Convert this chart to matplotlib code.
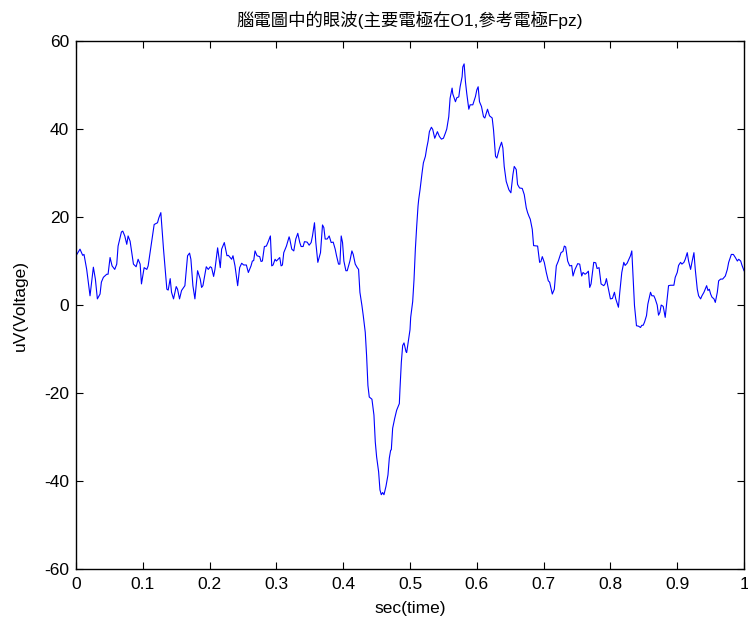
import numpy as np
import matplotlib
matplotlib.use('Agg')
import matplotlib.pyplot as plt

# EEG trace (time in s, voltage in uV)
t = [0.000, 0.006, 0.010, 0.012, 0.016, 0.021, 0.026, 0.029, 0.032, 0.036,
     0.038, 0.041, 0.046, 0.048, 0.051, 0.054, 0.058, 0.061, 0.063, 0.068,
     0.070, 0.073, 0.076, 0.078, 0.081, 0.086, 0.090, 0.093, 0.096, 0.098,
     0.102, 0.106, 0.108, 0.113, 0.117, 0.122, 0.124, 0.127, 0.131, 0.136,
     0.138, 0.141, 0.143, 0.146, 0.150, 0.152, 0.155, 0.158, 0.163, 0.167,
     0.170, 0.172, 0.175, 0.178, 0.182, 0.186, 0.188, 0.190, 0.195, 0.198,
     0.201, 0.203, 0.206, 0.208, 0.212, 0.216, 0.218, 0.222, 0.226, 0.228,
     0.233, 0.235, 0.238, 0.242, 0.245, 0.248, 0.251, 0.255, 0.258, 0.262,
     0.264, 0.266, 0.268, 0.271, 0.275, 0.277, 0.279, 0.282, 0.285, 0.288,
     0.291, 0.293, 0.295, 0.298, 0.300, 0.305, 0.307, 0.309, 0.311, 0.315,
     0.319, 0.320, 0.323, 0.326, 0.329, 0.332, 0.335, 0.337, 0.340, 0.342,
     0.346, 0.349, 0.352, 0.354, 0.357, 0.359, 0.362, 0.366, 0.369, 0.371,
     0.373, 0.376, 0.379, 0.382, 0.385, 0.388, 0.390, 0.393, 0.395, 0.397,
     0.399, 0.401, 0.404, 0.406, 0.410, 0.413, 0.415, 0.418, 0.421, 0.423,
     0.425, 0.428, 0.430, 0.433, 0.435, 0.437, 0.439, 0.443, 0.446, 0.447,
     0.448, 0.450, 0.453, 0.455, 0.457, 0.459, 0.461, 0.464, 0.467, 0.469,
     0.471, 0.472, 0.474, 0.477, 0.480, 0.484, 0.485, 0.487, 0.489, 0.491,
     0.494, 0.495, 0.498, 0.500, 0.501, 0.504, 0.506, 0.508, 0.510, 0.512,
     0.513, 0.515, 0.518, 0.520, 0.523, 0.525, 0.527, 0.529, 0.532, 0.534,
     0.537, 0.541, 0.544, 0.547, 0.550, 0.553, 0.555, 0.558, 0.560, 0.563,
     0.564, 0.568, 0.570, 0.573, 0.575, 0.578, 0.579, 0.581, 0.583, 0.585,
     0.588, 0.590, 0.594, 0.598, 0.600, 0.602, 0.604, 0.607, 0.610, 0.612,
     0.616, 0.619, 0.623, 0.625, 0.628, 0.630, 0.634, 0.637, 0.639, 0.641,
     0.644, 0.648, 0.651, 0.654, 0.656, 0.659, 0.661, 0.664, 0.668, 0.671,
     0.674, 0.676, 0.678, 0.680, 0.683, 0.685, 0.691, 0.694, 0.696, 0.698,
     0.701, 0.704, 0.707, 0.709, 0.713, 0.716, 0.719, 0.722, 0.726, 0.729,
     0.731, 0.733, 0.736, 0.739, 0.742, 0.744, 0.747, 0.751, 0.754, 0.757,
     0.759, 0.762, 0.764, 0.767, 0.769, 0.771, 0.775, 0.778, 0.780, 0.783,
     0.786, 0.790, 0.792, 0.794, 0.796, 0.800, 0.803, 0.806, 0.808, 0.812,
     0.814, 0.817, 0.820, 0.822, 0.825, 0.828, 0.830, 0.832, 0.834, 0.836,
     0.839, 0.842, 0.845, 0.847, 0.849, 0.851, 0.854, 0.856, 0.860, 0.862,
     0.865, 0.867, 0.870, 0.872, 0.874, 0.876, 0.879, 0.882, 0.885, 0.887,
     0.890, 0.895, 0.897, 0.900, 0.902, 0.905, 0.907, 0.910, 0.912, 0.915,
     0.917, 0.920, 0.922, 0.925, 0.927, 0.930, 0.932, 0.935, 0.937, 0.940,
     0.944, 0.946, 0.948, 0.950, 0.952, 0.955, 0.957, 0.960, 0.962, 0.965,
     0.968, 0.972, 0.975, 0.977, 0.981, 0.984, 0.987, 0.990, 0.992, 0.995,
     0.997, 1.000]

uv = [11.2, 12.7, 11.3, 11.5, 8.1, 2.1, 8.6, 5.9, 1.4, 2.5,
      5.2, 6.3, 7.0, 7.0, 10.8, 8.9, 8.1, 9.3, 13.4, 16.6,
      16.8, 15.7, 13.8, 15.7, 14.5, 9.3, 8.7, 10.4, 9.3, 4.8,
      8.5, 8.1, 8.9, 14.2, 18.3, 18.7, 19.8, 21.0, 12.7, 3.6,
      3.4, 6.0, 2.9, 1.4, 4.2, 3.6, 1.4, 3.3, 4.4, 11.2,
      11.8, 10.4, 4.4, 1.4, 7.8, 5.9, 4.0, 4.4, 8.7, 8.1,
      8.7, 8.5, 6.5, 8.1, 13.0, 8.5, 12.7, 14.2, 11.2, 11.3,
      10.4, 11.2, 8.9, 4.4, 8.5, 9.5, 9.1, 9.1, 7.4, 8.9,
      10.0, 10.1, 12.3, 11.2, 11.0, 9.9, 10.0, 13.3, 13.4, 14.5,
      15.7, 8.9, 9.1, 10.4, 10.0, 10.8, 8.9, 9.1, 11.9, 13.4,
      15.5, 15.0, 12.7, 12.3, 15.0, 16.3, 14.2, 13.3, 13.3, 14.4,
      14.3, 13.6, 14.2, 15.7, 18.7, 14.2, 9.7, 11.9, 18.2, 17.6,
      15.0, 15.0, 15.7, 14.2, 14.3, 12.7, 11.2, 9.3, 9.3, 15.7,
      14.2, 10.0, 7.8, 7.8, 10.0, 12.3, 11.5, 9.3, 8.5, 8.1,
      2.9, -0.1, -2.4, -6.2, -11.5, -18.3, -20.9, -21.4, -25.0, -28.0,
      -31.1, -34.5, -37.9, -42.0, -43.1, -42.6, -43.1, -41.2, -38.6, -34.8,
      -33.0, -32.9, -28.0, -25.8, -23.9, -22.4, -19.0, -13.0, -9.2, -8.6,
      -10.6, -10.8, -7.7, -5.6, -2.8, 0.8, 5.8, 12.7, 17.9, 22.5,
      24.0, 26.2, 30.0, 32.3, 33.8, 35.7, 37.2, 39.4, 40.4, 39.9,
      37.9, 39.4, 38.3, 37.7, 37.9, 39.1, 40.0, 42.8, 47.0, 49.3,
      48.0, 46.2, 47.1, 47.3, 49.6, 51.9, 54.1, 54.8, 50.7, 48.0,
      44.5, 45.5, 45.5, 47.4, 48.9, 49.6, 46.2, 45.1, 42.8, 42.5,
      44.5, 43.0, 42.5, 39.8, 33.8, 33.4, 35.7, 37.0, 35.7, 31.5,
      28.1, 26.2, 25.5, 29.6, 31.5, 30.8, 27.4, 26.6, 26.5, 25.1,
      22.1, 21.0, 20.2, 19.5, 17.2, 13.5, 13.4, 9.7, 9.9, 11.0,
      9.7, 7.4, 5.5, 5.2, 2.5, 3.6, 8.9, 10.0, 11.9, 12.2,
      13.4, 13.2, 10.0, 8.9, 9.0, 6.6, 8.1, 9.4, 9.3, 6.6,
      7.4, 7.0, 7.2, 7.7, 4.0, 4.8, 9.7, 9.6, 8.3, 8.5,
      4.8, 4.4, 4.8, 6.0, 4.4, 1.4, 1.5, 2.9, 1.4, -0.5,
      2.9, 7.4, 9.7, 9.0, 9.5, 10.5, 11.2, 12.3, 5.9, -0.1,
      -4.7, -4.8, -5.1, -4.6, -4.6, -3.9, -2.4, 0.2, 2.9, 2.1,
      2.1, 1.4, 0.0, -2.3, -1.7, 0.0, -0.3, -2.8, 1.4, 4.4,
      4.5, 4.5, 6.3, 7.4, 9.0, 9.7, 9.3, 9.7, 10.4, 11.9,
      10.0, 8.1, 9.7, 11.9, 8.1, 3.6, 2.1, 1.4, 2.1, 2.9,
      4.4, 3.3, 3.6, 2.5, 1.8, 1.4, 0.6, 2.9, 5.5, 5.9,
      5.9, 6.6, 8.1, 9.7, 11.5, 11.5, 10.8, 10.0, 10.4, 10.0,
      9.0, 7.8]

xticks = [0, 0.1, 0.2, 0.3, 0.4, 0.5, 0.6, 0.7, 0.8, 0.9, 1]
xticklabels = ['0', '0.1', '0.2', '0.3', '0.4', '0.5', '0.6', '0.7', '0.8', '0.9', '1']
yticks = [-60, -40, -20, 0, 20, 40, 60]

plt.rcParams['font.family'] = ['Liberation Sans', 'Noto Sans CJK TC', 'DejaVu Sans']
plt.rcParams['axes.unicode_minus'] = False

fig = plt.figure(figsize=(7.48, 6.24), dpi=100)
ax = fig.add_axes([0.1016, 0.088, 0.8931, 0.8463])

ax.plot(t, uv, color='#0000ff', linewidth=0.8)

ax.set_xlim(0, 1)
ax.set_ylim(-60, 60)
ax.set_xticks(xticks)
ax.set_xticklabels(xticklabels)
ax.set_yticks(yticks)
ax.tick_params(direction='in', length=5, width=0.8, top=True, right=True,
               labelsize=12.5)
ax.tick_params(axis='x', pad=6)
ax.tick_params(axis='y', pad=5)
for s in ax.spines.values():
    s.set_linewidth(1.0)

ax.set_xlabel('sec(time)', fontsize=12.5, labelpad=6)
ax.set_ylabel('uV(Voltage)', fontsize=12.5, labelpad=12)
ax.set_title('腦電圖中的眼波(主要電極在O1,參考電極Fpz)', fontsize=12.5, pad=11)

plt.savefig('out.png', dpi=100)
